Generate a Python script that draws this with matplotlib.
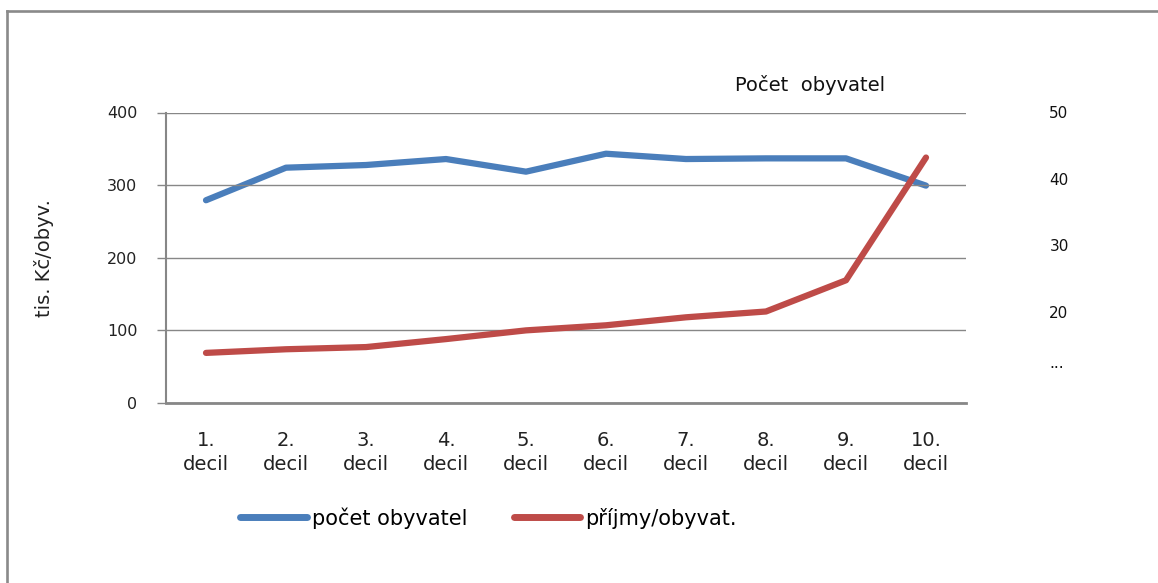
import matplotlib
matplotlib.use("Agg")
import matplotlib.pyplot as plt
from matplotlib.lines import Line2D

plt.rcParams['font.family'] = ['DejaVu Sans']

categories = ["1.\ndecil", "2.\ndecil", "3.\ndecil", "4.\ndecil", "5.\ndecil",
              "6.\ndecil", "7.\ndecil", "8.\ndecil", "9.\ndecil", "10.\ndecil"]
pocet_obyvatel = [36.8, 41.7, 42.1, 43.0, 41.1, 43.8, 43.0, 43.1, 43.1, 39.0]
prijmy_obyvat = [69, 74, 77, 88, 100, 107, 118, 126, 169, 338]
left_ticks = [0, 100, 200, 300, 400]
right_ticks = [12.5, 20, 30, 40, 50]
right_ticklabels = ["...", "20", "30", "40", "50"]

BLUE = "#4A7EBB"
RED = "#BE4B48"
GRAY = "#878787"

W, H = 1158, 583
fig = plt.figure(figsize=(W / 100, H / 100), dpi=100)
ax = fig.add_axes([166 / W, 1 - 403 / H, 800 / W, 290.5 / H])
ax2 = ax.twinx()
ax.set_zorder(ax2.get_zorder() + 1)
ax.patch.set_visible(False)

x = list(range(len(categories)))
ax2.plot(x, pocet_obyvatel, color=BLUE, lw=4.5, solid_capstyle='round',
         solid_joinstyle='round', label="počet obyvatel")
ax.plot(x, prijmy_obyvat, color=RED, lw=4.5, solid_capstyle='round',
        solid_joinstyle='round', label="příjmy/obyvat.")

ax.set_xlim(-0.5, 9.5)
ax.set_ylim(0, 400)
ax.set_yticks(left_ticks)
ax.grid(axis='y', color=GRAY, lw=1.0)
ax.set_axisbelow(True)
for s in ['top', 'right']:
    ax.spines[s].set_visible(False)
ax.spines['left'].set_color(GRAY)
ax.spines['left'].set_linewidth(1.5)
ax.spines['bottom'].set_color(GRAY)
ax.spines['bottom'].set_linewidth(2.0)
ax.tick_params(axis='y', direction='out', length=6.5, width=1, color=GRAY,
               pad=14, labelsize=11.5, labelcolor='#222222')
ax.set_xticks(x)
ax.set_xticklabels(categories, fontsize=14, linespacing=1.35, color='#222222')
ax.tick_params(axis='x', length=0, pad=20)
ax.set_ylabel("tis. Kč/obyv.", fontsize=14, color='#222222',
              family=['Liberation Sans Narrow', 'DejaVu Sans'], labelpad=38)

ax2.set_ylim(6.3, 50)
ax2.set_yticks(right_ticks)
ax2.set_yticklabels(right_ticklabels, fontsize=11, color='#111111')
ax2.tick_params(axis='y', length=0, pad=60)
for s in ax2.spines.values():
    s.set_visible(False)

fig.text(810 / W, 1 - 85 / H, "Počet  obyvatel", fontsize=14, ha='center',
         va='center', color='#111111')

handles = [Line2D([], [], color=BLUE, lw=5, solid_capstyle='round'),
           Line2D([], [], color=RED, lw=5, solid_capstyle='round')]
fig.legend(handles, ["počet obyvatel", "příjmy/obyvat."], loc='center left',
           bbox_to_anchor=(230 / W, 1 - 518 / H), ncol=2, frameon=False,
           fontsize=15, handlelength=3.2, handletextpad=0.25,
           columnspacing=2.2, borderpad=0)

# outer chart frame (only top and left edges visible)
fig.add_artist(Line2D([6.5 / W, 6.5 / W], [0, 1 - 11 / H], color='#8a8a8a',
                      lw=1.9, transform=fig.transFigure))
fig.add_artist(Line2D([6.5 / W, 1], [1 - 11 / H, 1 - 11 / H], color='#8a8a8a',
                      lw=1.9, transform=fig.transFigure))

fig.savefig("out.png", dpi=100)
